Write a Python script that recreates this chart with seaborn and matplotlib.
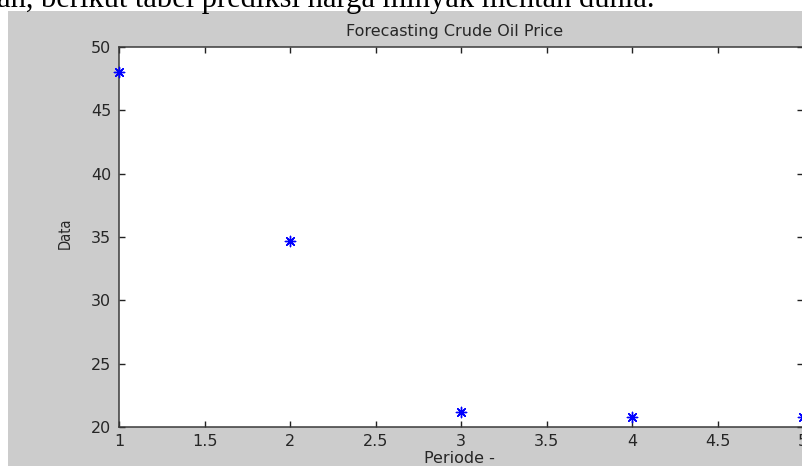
import seaborn as sns
import matplotlib.pyplot as plt
from matplotlib.patches import Rectangle

# data
periode = [1, 2, 3, 4, 5]
harga = [48.0, 34.65, 21.15, 20.8, 20.8]

x_ticks = [1, 1.5, 2, 2.5, 3, 3.5, 4, 4.5, 5]
x_tick_labels = ['1', '1.5', '2', '2.5', '3', '3.5', '4', '4.5', '5']
y_ticks = [20, 25, 30, 35, 40, 45, 50]

W, H = 802, 466

sns.set_theme(style="white")
plt.rcParams['font.family'] = ['DejaVu Sans']

fig = plt.figure(figsize=(W / 100, H / 100), dpi=100, facecolor='white')

# gray MATLAB figure background (screenshot leaves a white strip top and left)
fig.patches.append(Rectangle((8 / W, 0), 1, 1 - 11 / H, transform=fig.transFigure,
                             facecolor='#cccccc', edgecolor='none', zorder=-10))

# cut-off sentence from the document above the screenshot
fig.text(-0.004, 1 - 7 / H, 'an, berikut tabel prediksi harga minyak mentah dunia.',
         family='Liberation Serif', fontsize=22, va='baseline', ha='left', color='black')

ax = fig.add_axes([119 / W, (H - 427) / H, 684 / W, 380 / H])
ax.set_facecolor('white')

sns.scatterplot(x=periode, y=harga, ax=ax, marker=(8, 2, 0), color='blue',
                s=55, linewidth=1.0, clip_on=False, zorder=5)

ax.set_xlim(1, 5)
ax.set_ylim(20, 50)
ax.set_xticks(x_ticks)
ax.set_xticklabels(x_tick_labels)
ax.set_yticks(y_ticks)

for s in ax.spines.values():
    s.set_visible(True)
    s.set_color('#3a3a3a')
    s.set_linewidth(1.1)

txt = '#262626'
ax.tick_params(direction='in', length=4.5, width=1, color='#222222',
               top=True, right=True, bottom=True, left=True,
               labelsize=11.5, labelcolor=txt)
ax.tick_params(axis='y', pad=5.5)
ax.tick_params(axis='x', pad=5)

ax.set_title('Forecasting Crude Oil Price', fontsize=11.5, color=txt, pad=8, x=0.491)
ax.set_xlabel('Periode -', fontsize=11.5, color=txt)
ax.set_ylabel('Data', fontsize=10.5, color=txt, fontstretch='condensed')
ax.xaxis.set_label_coords(0.497, -0.082)
ax.yaxis.set_label_coords(-0.079, 0.51)
ax.xaxis.label.set_va('center')
ax.yaxis.label.set_va('center')

fig.savefig('out.png', dpi=100, facecolor='white')
